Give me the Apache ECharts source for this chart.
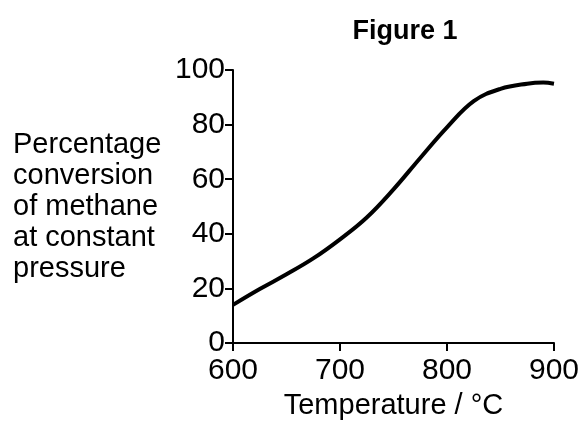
<!DOCTYPE html>
<html>
<head>
<meta charset="utf-8">
<script src="https://cdn.jsdelivr.net/npm/echarts@6/dist/echarts.min.js"></script>
<style>
  html, body { margin: 0; padding: 0; background: #fff; }
  #main { width: 582px; height: 425px; }
</style>
</head>
<body>
<div id="main"></div>
<script>
// values
var temperatures = [600, 625, 650, 675, 700, 725, 750, 775, 800, 825, 850, 875, 890, 900];
var conversion = [14, 19.8, 25.2, 31, 38, 46, 56.3, 67.8, 79, 88.6, 93.1, 95, 95.4, 95];
var yLabelLines = ['Percentage', 'conversion', 'of methane', 'at constant', 'pressure'];

var font = 'Liberation Sans, Arial, sans-serif';

var points = temperatures.map(function (t, i) { return [t, conversion[i]]; });

var chart = echarts.init(document.getElementById('main'));
chart.setOption({
    animation: false,
    backgroundColor: '#fff',
    title: {
        text: 'Figure 1',
        left: 400,
        top: 13,
        textAlign: 'center',
        textStyle: { fontFamily: font, fontSize: 27, fontWeight: 'bold', color: '#000' }
    },
    graphic: [{
        type: 'text',
        left: 13,
        top: 129,
        style: {
            text: yLabelLines.join('\n'),
            font: '29px ' + font,
            lineHeight: 31,
            fill: '#000'
        }
    }],
    grid: { left: 233, right: 27, top: 70, bottom: 80 },
    xAxis: {
        type: 'value',
        min: 600,
        max: 900,
        interval: 100,
        name: 'Temperature / °C',
        nameLocation: 'middle',
        nameGap: 47,
        nameTextStyle: { fontFamily: font, fontSize: 29, color: '#000' },
        axisLine: { lineStyle: { color: '#000', width: 2 } },
        axisTick: { length: 8, lineStyle: { color: '#000', width: 2 } },
        axisLabel: { margin: 13, fontFamily: font, fontSize: 30, color: '#000' },
        splitLine: { show: false }
    },
    yAxis: {
        type: 'value',
        min: 0,
        max: 100,
        interval: 20,
        axisLine: { show: true, lineStyle: { color: '#000', width: 2 } },
        axisTick: { show: true, length: 8, lineStyle: { color: '#000', width: 2 } },
        axisLabel: { margin: 8, fontFamily: font, fontSize: 30, color: '#000' },
        splitLine: { show: false }
    },
    series: [{
        type: 'line',
        data: points,
        smooth: 0.4,
        showSymbol: false,
        lineStyle: { color: '#000', width: 4 }
    }]
});
</script>
</body>
</html>
